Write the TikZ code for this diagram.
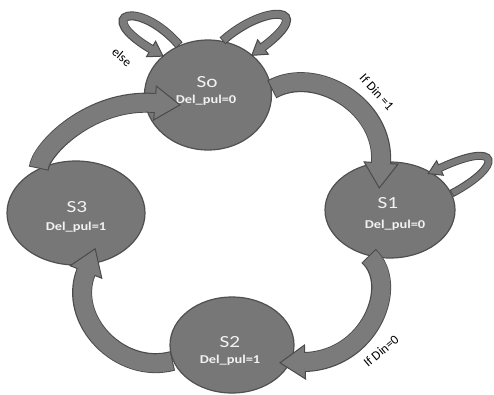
\documentclass[tikz,border=0pt]{standalone}
\usepackage{fontspec}
\setmainfont{Carlito}
\usetikzlibrary{shapes.geometric,calc}
\definecolor{stfill}{HTML}{777777}
\definecolor{stedge}{HTML}{505050}
\definecolor{arfill}{HTML}{7B7B7B}
\definecolor{aredge}{HTML}{4A4A4A}
\definecolor{txtw}{HTML}{F2F2F2}
% start, c1, c2, base, inner width, outer width, head half width, head length
\newcommand\blockarr[8]{%
  \draw[line width=#6, aredge] (#1) .. controls (#2) and (#3) .. (#4);
  \filldraw[fill=arfill, draw=aredge, line width=1pt, line join=miter]
    ($(#4)!-#8!(#3)$) -- ($(#4)!#7!90:(#3)$) -- ($(#4)!#7!-90:(#3)$) -- cycle;
  \draw[line width=#5, arfill, shorten <=1pt, shorten >=-1pt] (#1) .. controls (#2) and (#3) .. (#4);
}
\tikzset{
  state/.style={ellipse, draw=stedge, line width=1.2pt, fill=stfill, inner sep=0pt},
  stname/.style={text=txtw, font=\fontsize{17}{17}\selectfont, xscale=1.25, inner sep=0pt},
  stout/.style={text=txtw, font=\bfseries\fontsize{12}{12}\selectfont, xscale=1.2, inner sep=0pt},
  cond/.style={font=\fontsize{13}{13}\selectfont, inner sep=0pt},
}
\begin{document}
\begin{tikzpicture}[x=1pt,y=-1pt]
\useasboundingbox[fill=white] (0,0) rectangle (494,394);
% states
\node[state, minimum width=127pt, minimum height=110pt] (s0) at (208,95) {};
\node[state, minimum width=130pt, minimum height=96pt] (s1) at (390,210) {};
\node[state, minimum width=124pt, minimum height=96pt] (s2) at (232,345) {};
\node[state, minimum width=138pt, minimum height=104pt] (s3) at (76,213) {};
% texts
\node[stname] (s0n) at (207,82) {So};
\node[stout] (s0o) at (206,100) {Del\_pul=0};
\node[stname] (s1n) at (388,203) {S1};
\node[stout] (s1o) at (395,225) {Del\_pul=0};
\node[stname] (s2n) at (230,342) {S2};
\node[stout] (s2o) at (230,360) {Del\_pul=1};
\node[stname] (s3n) at (77,207) {S3};
\node[stout] (s3o) at (76,227) {Del\_pul=1};
% arrow end coordinates
\coordinate (b1) at (381,163);
\coordinate (b2) at (305,362);
\coordinate (b3) at (86,272);
\coordinate (b4) at (155,103);
\coordinate (b5) at (440,168);
\coordinate (b6) at (151,49);
\coordinate (b7) at (263,47);
% main arrows
\blockarr{s0.5}{315,65}{385,105}{b1}{18pt}{20pt}{17pt}{25pt}
\blockarr{s1.245}{400,285}{370,360}{b2}{18pt}{20pt}{17pt}{25pt}
\blockarr{s2.195}{120,375}{67,320}{b3}{18pt}{20pt}{17pt}{25pt}
\blockarr{s3.130}{40,150}{90,98}{b4}{18pt}{20pt}{17pt}{25pt}
% self loops
\blockarr{s1.15}{505,165}{500,140}{b5}{6pt}{8pt}{8pt}{13pt}
\blockarr{s0.120}{138,-2}{92,14}{b6}{7pt}{9pt}{9pt}{14pt}
\blockarr{s0.75}{265,3}{318,6}{b7}{7pt}{9pt}{9pt}{14pt}
% labels
\node[cond, rotate=-48] (l1) at (377,92) {If Din =1};
\node[cond, rotate=40] (l2) at (381,351) {If Din=0};
\node[cond, rotate=-40] (l3) at (122,57) {else};
\end{tikzpicture}
\end{document}
